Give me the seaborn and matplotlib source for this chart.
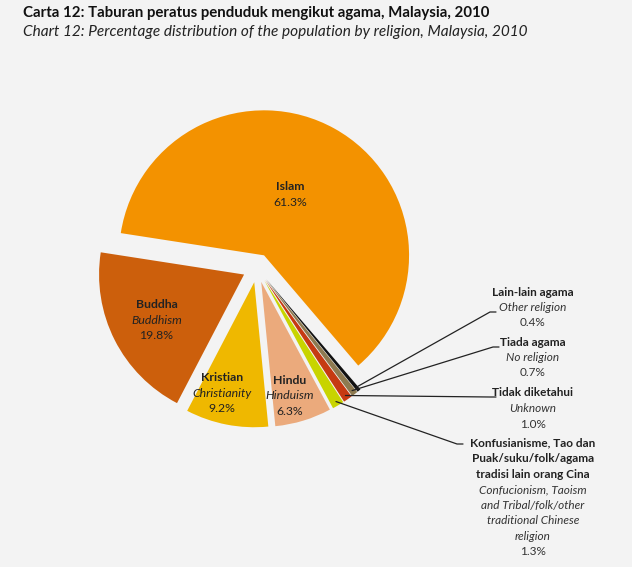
#!/usr/bin/env python3
"""Carta 12: taburan peratus penduduk mengikut agama, Malaysia, 2010."""
import numpy as np
import matplotlib
matplotlib.use("Agg")
import matplotlib.pyplot as plt
import seaborn as sns

# data
nama_bm = ["Islam", "Buddha", "Kristian", "Hindu",
           "Konfusianisme, Tao dan\nPuak/suku/folk/agama\ntradisi lain orang Cina",
           "Tidak diketahui", "Tiada agama", "Lain-lain agama"]
nama_en = ["", "Buddhism", "Christianity", "Hinduism",
           "Confucionism, Taoism\nand Tribal/folk/other\ntraditional Chinese\nreligion",
           "Unknown", "No religion", "Other religion"]
peratus = [61.3, 19.8, 9.2, 6.3, 1.3, 1.0, 0.7, 0.4]
warna = ["#F39200", "#CC5F0C", "#EFB800", "#EBAA7C",
         "#C8D400", "#C63A12", "#8E7A50", "#111111"]

BG = "#F3F3F3"
W, H = 632, 567
FONT = ["Lato", "DejaVu Sans"]

sns.set_theme(style="white")
plt.rcParams["font.family"] = FONT

fig = plt.figure(figsize=(W / 100, H / 100), dpi=100, facecolor=BG)
ax = fig.add_axes([0, 0, 1, 1])
ax.set_facecolor(BG)

cx, cy, R = 257, H - 268, 145
explode = 0.1  # fraction of radius
# pie() takes explode in data units, so scale by the radius
wedges, _ = ax.pie(peratus, colors=sns.color_palette(warna), startangle=-49.5,
                   counterclock=True, center=(cx, cy), radius=R,
                   explode=[explode * R] * len(peratus), frame=True,
                   wedgeprops=dict(linewidth=0))
ax.set_xlim(0, W)
ax.set_ylim(0, H)
ax.set_aspect("equal")
ax.axis("off")


def px(x, y):
    # image pixel coords -> data coords
    return x, H - y


def mid_dir(w):
    a = np.deg2rad((w.theta1 + w.theta2) / 2)
    return np.cos(a), np.sin(a)


# labels inside the big slices: radial fraction + small horizontal nudge
frac = [0.48, 0.70, 0.78, 0.82]
nudge = [-8, 3, -11, -6]
lh = 15.5
fs_in = 8.8
for i, f in enumerate(frac):
    dx, dy = mid_dir(wedges[i])
    wx, wy = wedges[i].center
    x = wx + f * R * dx + nudge[i]
    y = wy + f * R * dy
    if i == 0:
        ax.text(x, y + lh / 2, nama_bm[i], ha="center", va="center",
                fontsize=fs_in, fontweight="bold", color="#222222")
        ax.text(x, y - lh / 2, f"{peratus[i]}%", ha="center", va="center",
                fontsize=fs_in, color="#222222")
    else:
        ax.text(x, y + lh, nama_bm[i], ha="center", va="center",
                fontsize=fs_in, fontweight="bold", color="#222222")
        ax.text(x, y, nama_en[i], ha="center", va="center",
                fontsize=fs_in, style="italic", color="#222222")
        ax.text(x, y - lh, f"{peratus[i]}%", ha="center", va="center",
                fontsize=fs_in, color="#222222")

# callouts for the small slices (top y of each block, elbow point)
callouts = {
    7: (292, (490, 312)),
    6: (342, (493, 347)),
    5: (393, (490, 397)),
    4: (443, (457, 444)),
}
tx = 533
for i, (ytop, (ex, ey)) in callouts.items():
    dx, dy = mid_dir(wedges[i])
    wx, wy = wedges[i].center
    sx = wx + 0.97 * R * dx
    sy = wy + 0.97 * R * dy
    ex_, ey_ = px(ex, ey)
    ax.plot([sx, ex_, ex_ + 6], [sy, ey_, ey_], color="#222222", lw=0.9)
    n_bm = nama_bm[i].count("\n") + 1
    n_en = nama_en[i].count("\n") + 1
    y0 = ytop
    for k, line in enumerate(nama_bm[i].split("\n")):
        ax.text(*px(tx, y0 + k * lh), line, ha="center", va="center",
                fontsize=8.5, fontweight="bold", color="#222222")
    y0 += n_bm * lh
    for k, line in enumerate(nama_en[i].split("\n")):
        ax.text(*px(tx, y0 + k * lh), line, ha="center", va="center",
                fontsize=8.5, style="italic", color="#333333")
    y0 += n_en * lh
    ax.text(*px(tx, y0), f"{peratus[i]}%", ha="center", va="center",
            fontsize=8.5, color="#333333")

# title
fig.text(23 / W, 1 - 13 / H,
         "Carta 12: Taburan peratus penduduk mengikut agama, Malaysia, 2010",
         ha="left", va="center", fontsize=10.8, fontweight="bold", color="#111111")
fig.text(23 / W, 1 - 32 / H,
         "Chart 12: Percentage distribution of the population by religion, Malaysia, 2010",
         ha="left", va="center", fontsize=11.1, style="italic", color="#222222")

fig.savefig("out.png", dpi=100, facecolor=BG)
